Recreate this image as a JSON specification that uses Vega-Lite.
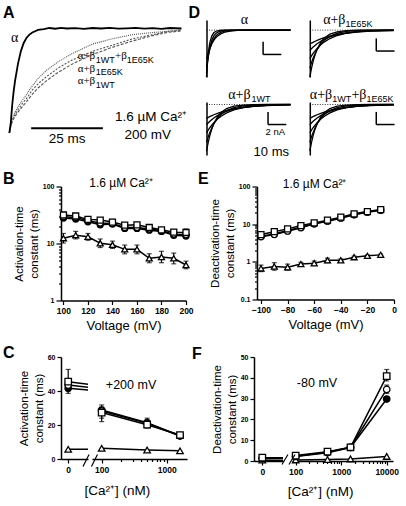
{
"$schema":"https://vega.github.io/schema/vega-lite/v6.json",
"padding":{"left":2,"top":5,"right":0,"bottom":0},
"background":"white",
"config":{
 "view":{"stroke":null},
 "axis":{"grid":false,"domainColor":"black","domainWidth":1.5,"tickColor":"black","tickWidth":1.2,"tickSize":4,"labelColor":"black","titleColor":"black","labelFont":"Liberation Sans","titleFont":"Liberation Sans","labelFontWeight":"bold","titleFontWeight":"normal","labelOverlap":false,"labelFlush":false,"labelPadding":2},
 "text":{"color":"black"}
},
"datasets":{
 "trA":[
  {"c":"a","x":0,"y":0},{"c":"a","x":0.5,"y":0.1},{"c":"a","x":1,"y":0.27},{"c":"a","x":1.5,"y":0.4},{"c":"a","x":2,"y":0.5},{"c":"a","x":3,"y":0.66},{"c":"a","x":4,"y":0.78},{"c":"a","x":5,"y":0.86},{"c":"a","x":6,"y":0.91},{"c":"a","x":7,"y":0.94},{"c":"a","x":8,"y":0.96},{"c":"a","x":10,"y":0.985},{"c":"a","x":12,"y":0.992},{"c":"a","x":14,"y":1.003},{"c":"a","x":16,"y":0.996},{"c":"a","x":18,"y":1.004},{"c":"a","x":20,"y":0.998},{"c":"a","x":23,"y":1.002},{"c":"a","x":26,"y":0.995},{"c":"a","x":29,"y":1.003},{"c":"a","x":32,"y":0.998},{"c":"a","x":35,"y":1.004},{"c":"a","x":38,"y":0.996},{"c":"a","x":41,"y":1.0},{"c":"a","x":44,"y":1.005},{"c":"a","x":47,"y":0.997},{"c":"a","x":50,"y":1.002},{"c":"a","x":53,"y":0.995},{"c":"a","x":56,"y":1.003},{"c":"a","x":60,"y":0.998},
  {"c":"s1","x":0,"y":0},{"c":"s1","x":0.5,"y":0.07},{"c":"s1","x":1,"y":0.12},{"c":"s1","x":2,"y":0.18},{"c":"s1","x":3,"y":0.22},{"c":"s1","x":4.5,"y":0.28},{"c":"s1","x":6,"y":0.33},{"c":"s1","x":8,"y":0.41},{"c":"s1","x":10,"y":0.47},{"c":"s1","x":13,"y":0.54},{"c":"s1","x":17,"y":0.62},{"c":"s1","x":22,"y":0.7},{"c":"s1","x":29,"y":0.78},{"c":"s1","x":36,"y":0.84},{"c":"s1","x":43,"y":0.9},{"c":"s1","x":50,"y":0.94},{"c":"s1","x":55,"y":0.97},{"c":"s1","x":60,"y":0.98},
  {"c":"s2","x":0,"y":0},{"c":"s2","x":0.5,"y":0.08},{"c":"s2","x":1,"y":0.13},{"c":"s2","x":2,"y":0.2},{"c":"s2","x":3,"y":0.25},{"c":"s2","x":4.5,"y":0.31},{"c":"s2","x":6,"y":0.37},{"c":"s2","x":8,"y":0.45},{"c":"s2","x":10,"y":0.52},{"c":"s2","x":13,"y":0.6},{"c":"s2","x":17,"y":0.68},{"c":"s2","x":22,"y":0.76},{"c":"s2","x":29,"y":0.85},{"c":"s2","x":36,"y":0.9},{"c":"s2","x":43,"y":0.94},{"c":"s2","x":50,"y":0.96},{"c":"s2","x":55,"y":0.97},{"c":"s2","x":60,"y":0.985},
  {"c":"s3","x":0,"y":0},{"c":"s3","x":0.5,"y":0.06},{"c":"s3","x":1,"y":0.11},{"c":"s3","x":2,"y":0.16},{"c":"s3","x":3,"y":0.2},{"c":"s3","x":4.5,"y":0.25},{"c":"s3","x":6,"y":0.3},{"c":"s3","x":8,"y":0.37},{"c":"s3","x":10,"y":0.43},{"c":"s3","x":13,"y":0.5},{"c":"s3","x":17,"y":0.58},{"c":"s3","x":22,"y":0.66},{"c":"s3","x":29,"y":0.75},{"c":"s3","x":36,"y":0.82},{"c":"s3","x":43,"y":0.88},{"c":"s3","x":50,"y":0.93},{"c":"s3","x":55,"y":0.96},{"c":"s3","x":60,"y":0.975}
 ],
 "trDa":[
  {"c":"d1","x":0,"y":-7.4},{"c":"d1","x":0.5,"y":-5.18},{"c":"d1","x":1,"y":-3.62},{"c":"d1","x":1.5,"y":-2.53},{"c":"d1","x":2,"y":-1.77},{"c":"d1","x":3,"y":-0.87},{"c":"d1","x":4,"y":-0.42},{"c":"d1","x":5,"y":-0.21},{"c":"d1","x":6,"y":-0.1},{"c":"d1","x":8,"y":-0.02},{"c":"d1","x":10,"y":0},{"c":"d1","x":46,"y":0},
  {"c":"d2","x":0,"y":-6.8},{"c":"d2","x":0.5,"y":-5.3},{"c":"d2","x":1,"y":-4.12},{"c":"d2","x":1.5,"y":-3.21},{"c":"d2","x":2,"y":-2.5},{"c":"d2","x":3,"y":-1.52},{"c":"d2","x":4,"y":-0.92},{"c":"d2","x":5,"y":-0.56},{"c":"d2","x":6,"y":-0.34},{"c":"d2","x":8,"y":-0.12},{"c":"d2","x":10,"y":-0.05},{"c":"d2","x":13,"y":0},{"c":"d2","x":46,"y":0},
  {"c":"d3","x":0,"y":-5.8},{"c":"d3","x":0.5,"y":-4.85},{"c":"d3","x":1,"y":-4.06},{"c":"d3","x":1.5,"y":-3.4},{"c":"d3","x":2,"y":-2.84},{"c":"d3","x":3,"y":-1.99},{"c":"d3","x":4,"y":-1.39},{"c":"d3","x":5,"y":-0.97},{"c":"d3","x":6,"y":-0.68},{"c":"d3","x":8,"y":-0.33},{"c":"d3","x":10,"y":-0.16},{"c":"d3","x":13,"y":-0.06},{"c":"d3","x":17,"y":0},{"c":"d3","x":46,"y":0},
  {"c":"d4","x":0,"y":-4.6},{"c":"d4","x":0.5,"y":-4.03},{"c":"d4","x":1,"y":-3.54},{"c":"d4","x":1.5,"y":-3.1},{"c":"d4","x":2,"y":-2.72},{"c":"d4","x":3,"y":-2.09},{"c":"d4","x":4,"y":-1.61},{"c":"d4","x":5,"y":-1.23},{"c":"d4","x":6,"y":-0.95},{"c":"d4","x":8,"y":-0.56},{"c":"d4","x":10,"y":-0.33},{"c":"d4","x":13,"y":-0.15},{"c":"d4","x":17,"y":-0.05},{"c":"d4","x":22,"y":0},{"c":"d4","x":46,"y":0}
 ],
 "trDb":[
  {"c":"c1","x":0,"y":-7.4},{"c":"c1","x":1,"y":-5.93},{"c":"c1","x":2,"y":-4.74},{"c":"c1","x":3,"y":-3.8},{"c":"c1","x":4,"y":-3.04},{"c":"c1","x":6,"y":-1.95},{"c":"c1","x":8,"y":-1.25},{"c":"c1","x":11,"y":-0.64},{"c":"c1","x":15,"y":-0.26},{"c":"c1","x":20,"y":-0.09},{"c":"c1","x":26,"y":-0.02},{"c":"c1","x":33,"y":0},{"c":"c1","x":46,"y":0},
  {"c":"c2","x":0,"y":-6},{"c":"c2","x":1,"y":-5.08},{"c":"c2","x":2,"y":-4.3},{"c":"c2","x":3,"y":-3.64},{"c":"c2","x":4,"y":-3.08},{"c":"c2","x":6,"y":-2.21},{"c":"c2","x":8,"y":-1.58},{"c":"c2","x":11,"y":-0.96},{"c":"c2","x":15,"y":-0.49},{"c":"c2","x":20,"y":-0.21},{"c":"c2","x":26,"y":-0.08},{"c":"c2","x":33,"y":-0.02},{"c":"c2","x":46,"y":0},
  {"c":"c3","x":0,"y":-4.5},{"c":"c3","x":1,"y":-4.03},{"c":"c3","x":2,"y":-3.6},{"c":"c3","x":3,"y":-3.23},{"c":"c3","x":4,"y":-2.89},{"c":"c3","x":6,"y":-2.31},{"c":"c3","x":8,"y":-1.85},{"c":"c3","x":11,"y":-1.33},{"c":"c3","x":15,"y":-0.85},{"c":"c3","x":20,"y":-0.49},{"c":"c3","x":26,"y":-0.25},{"c":"c3","x":33,"y":-0.12},{"c":"c3","x":40,"y":-0.05},{"c":"c3","x":46,"y":-0.03},
  {"c":"c4","x":0,"y":-3.2},{"c":"c4","x":1,"y":-2.9},{"c":"c4","x":2,"y":-2.62},{"c":"c4","x":3,"y":-2.37},{"c":"c4","x":4,"y":-2.14},{"c":"c4","x":6,"y":-1.76},{"c":"c4","x":8,"y":-1.44},{"c":"c4","x":11,"y":-1.07},{"c":"c4","x":15,"y":-0.71},{"c":"c4","x":20,"y":-0.43},{"c":"c4","x":26,"y":-0.24},{"c":"c4","x":33,"y":-0.12},{"c":"c4","x":40,"y":-0.06},{"c":"c4","x":46,"y":-0.03},
  {"c":"c5","x":0,"y":-2.2},{"c":"c5","x":1,"y":-2.04},{"c":"c5","x":2,"y":-1.89},{"c":"c5","x":3,"y":-1.75},{"c":"c5","x":4,"y":-1.62},{"c":"c5","x":6,"y":-1.39},{"c":"c5","x":8,"y":-1.19},{"c":"c5","x":11,"y":-0.94},{"c":"c5","x":15,"y":-0.69},{"c":"c5","x":20,"y":-0.47},{"c":"c5","x":26,"y":-0.3},{"c":"c5","x":33,"y":-0.17},{"c":"c5","x":40,"y":-0.1},{"c":"c5","x":46,"y":-0.06}
 ],
 "dB":[
  {"x":100,"s":"T","y":12.4,"lo":10.2,"hi":15.0},{"x":110,"s":"T","y":14.0,"lo":12.0,"hi":16.3},{"x":120,"s":"T","y":13.1,"lo":11.4,"hi":15.0},{"x":130,"s":"T","y":10.1,"lo":8.5,"hi":12.0},{"x":140,"s":"T","y":9.5,"lo":8.2,"hi":11.0},{"x":150,"s":"T","y":7.9,"lo":6.6,"hi":9.4},{"x":160,"s":"T","y":7.9,"lo":6.6,"hi":9.4},{"x":170,"s":"T","y":5.5,"lo":4.6,"hi":6.6},{"x":180,"s":"T","y":5.8,"lo":4.6,"hi":7.3},{"x":190,"s":"T","y":5.5,"lo":4.4,"hi":6.8},{"x":200,"s":"T","y":4.2,"lo":3.6,"hi":4.9},
  {"x":100,"s":"W","y":28},{"x":110,"s":"W","y":26.9},{"x":120,"s":"W","y":24.1},{"x":130,"s":"W","y":21.3},{"x":140,"s":"W","y":21.9},{"x":150,"s":"W","y":18.4},{"x":160,"s":"W","y":18.4},{"x":170,"s":"W","y":17.1},{"x":180,"s":"W","y":16.3},{"x":190,"s":"W","y":13.9},{"x":200,"s":"W","y":13.5},
  {"x":100,"s":"O","y":29.5},{"x":110,"s":"O","y":28.7},{"x":120,"s":"O","y":25},{"x":130,"s":"O","y":22.8},{"x":140,"s":"O","y":22.5},{"x":150,"s":"O","y":19.1},{"x":160,"s":"O","y":19.1},{"x":170,"s":"O","y":17.9},{"x":180,"s":"O","y":16.8},{"x":190,"s":"O","y":14.6},{"x":200,"s":"O","y":14.2},
  {"x":100,"s":"S","y":31.6,"lo":29,"hi":34.5},{"x":110,"s":"S","y":30.4,"lo":28,"hi":33},{"x":120,"s":"S","y":26.5,"lo":24.5,"hi":28.8},{"x":130,"s":"S","y":25.8,"lo":23.5,"hi":28.5},{"x":140,"s":"S","y":23.8,"lo":21.5,"hi":26.5},{"x":150,"s":"S","y":21,"lo":19.3,"hi":22.9},{"x":160,"s":"S","y":21.3,"lo":19.5,"hi":23.3},{"x":170,"s":"S","y":19.1,"lo":17.5,"hi":20.8},{"x":180,"s":"S","y":17.4,"lo":16,"hi":19},{"x":190,"s":"S","y":15.8,"lo":14.4,"hi":17.4},{"x":200,"s":"S","y":15.6,"lo":13.5,"hi":18}
 ],
 "dE":[
  {"x":-100,"s":"T","y":0.67,"lo":0.55,"hi":0.82},{"x":-90,"s":"T","y":0.75,"lo":0.6,"hi":0.95},{"x":-80,"s":"T","y":0.72,"lo":0.6,"hi":0.87},{"x":-70,"s":"T","y":0.87,"lo":0.78,"hi":0.97},{"x":-60,"s":"T","y":0.92,"lo":0.8,"hi":1.05},{"x":-50,"s":"T","y":1.1,"lo":0.95,"hi":1.25},{"x":-40,"s":"T","y":1.1,"lo":1.0,"hi":1.2},{"x":-30,"s":"T","y":1.33,"lo":1.25,"hi":1.42},{"x":-20,"s":"T","y":1.44,"lo":1.36,"hi":1.52},{"x":-10,"s":"T","y":1.53,"lo":1.45,"hi":1.6},
  {"x":-100,"s":"W","y":4.8},{"x":-90,"s":"W","y":5.5},{"x":-80,"s":"W","y":6.8},{"x":-70,"s":"W","y":8.3},{"x":-60,"s":"W","y":10.2},{"x":-50,"s":"W","y":12.2},{"x":-40,"s":"W","y":14.7},{"x":-30,"s":"W","y":18.0},{"x":-20,"s":"W","y":21.2},{"x":-10,"s":"W","y":23.9},
  {"x":-100,"s":"O","y":4.6},{"x":-90,"s":"O","y":5.3},{"x":-80,"s":"O","y":6.5},{"x":-70,"s":"O","y":8.0},{"x":-60,"s":"O","y":10.2},{"x":-50,"s":"O","y":12.0},{"x":-40,"s":"O","y":14.4},{"x":-30,"s":"O","y":17.7},{"x":-20,"s":"O","y":20.7},{"x":-10,"s":"O","y":23.4},
  {"x":-100,"s":"S","y":5.3},{"x":-90,"s":"S","y":6.3},{"x":-80,"s":"S","y":7.5},{"x":-70,"s":"S","y":9.2},{"x":-60,"s":"S","y":10.8},{"x":-50,"s":"S","y":12.8},{"x":-40,"s":"S","y":15.3},{"x":-30,"s":"S","y":18.8},{"x":-20,"s":"S","y":21.6},{"x":-10,"s":"S","y":24.4}
 ],
 "dC":[
  {"x":0,"s":"T","y":5.7},{"x":100,"s":"T","y":6.3},{"x":500,"s":"T","y":5.3},{"x":1600,"s":"T","y":4.8},
  {"x":0,"s":"W","y":41.6,"lo":38.6,"hi":44.6},{"x":100,"s":"W","y":28.8,"lo":22,"hi":31.8},{"x":500,"s":"W","y":21.4,"lo":18.5,"hi":24},{"x":1600,"s":"W","y":13.7},
  {"x":0,"s":"O","y":43.5},{"x":100,"s":"O","y":28.2},{"x":500,"s":"O","y":21.0},{"x":1600,"s":"O","y":13.5},
  {"x":0,"s":"S","y":45.5,"lo":40,"hi":52.7},{"x":100,"s":"S","y":27.3,"lo":24,"hi":30.5},{"x":500,"s":"S","y":20.2,"lo":18.2,"hi":22.4},{"x":1600,"s":"S","y":14.1}
 ],
 "dF":[
  {"x":0,"s":"T","y":0.4},{"x":100,"s":"T","y":0.5},{"x":500,"s":"T","y":0.7},{"x":1600,"s":"T","y":1.0},{"x":10000,"s":"T","y":2.2},
  {"x":0,"s":"W","y":1.2},{"x":100,"s":"W","y":2.2},{"x":500,"s":"W","y":4.0},{"x":1600,"s":"W","y":6.5},{"x":10000,"s":"W","y":29.8},
  {"x":0,"s":"O","y":1.4},{"x":100,"s":"O","y":2.3},{"x":500,"s":"O","y":4.2},{"x":1600,"s":"O","y":6.6},{"x":10000,"s":"O","y":34.4,"lo":32.5,"hi":36.5},
  {"x":0,"s":"S","y":1.6},{"x":100,"s":"S","y":2.6},{"x":500,"s":"S","y":4.5},{"x":1600,"s":"S","y":6.6},{"x":10000,"s":"S","y":40.8,"lo":38.5,"hi":44}
 ]
},
"spacing":11.5,
"vconcat":[
 {"hconcat":[
  {"width":120.5,"height":113,
   "encoding":{"x":{"field":"x","type":"quantitative","scale":{"domain":[18,60],"nice":false,"zero":false},"axis":null},
               "y":{"field":"y","type":"quantitative","scale":{"domain":[0,1.0793],"nice":false,"zero":false},"axis":null}},
   "layer":[
    {"data":{"name":"trA"},"transform":[{"filter":"datum.c != 'a'"}],"mark":{"type":"line","color":"#555555","strokeWidth":1.1},"encoding":{"detail":{"field":"c"},"strokeDash":{"field":"c","type":"nominal","scale":{"domain":["s1","s2","s3"],"range":[[2,1.5],[1,1],[3,1.5]]},"legend":null}}},
    {"data":{"name":"trA"},"transform":[{"filter":"datum.c == 'a'"}],"mark":{"type":"line","color":"black","strokeWidth":1.8}},
    {"data":{"values":[{"x":7.6,"x2":32.6,"y":0.045}]},"mark":{"type":"rule","color":"black","strokeWidth":2},"encoding":{"x2":{"field":"x2"}}},
    {"data":{"values":[{"t":"A","x":-2.2,"y":1.146}]},"mark":{"type":"text","align":"left","baseline":"middle","fontSize":16,"fontWeight":"bold","font":"Liberation Sans"},"encoding":{"text":{"field":"t"}}},
    {"data":{"values":[{"t":"α","x":0.6,"y":0.907}]},"mark":{"type":"text","align":"left","baseline":"middle","fontSize":14,"font":"Liberation Serif"},"encoding":{"text":{"field":"t"}}},
    {"data":{"values":[{"t":"α+β","x":23.8,"y":0.735},{"t":"+β","x":36.8,"y":0.735},{"t":"α+β","x":23.8,"y":0.616},{"t":"α+β","x":23.8,"y":0.497}]},"mark":{"type":"text","align":"left","baseline":"middle","fontSize":11,"font":"Liberation Serif"},"encoding":{"text":{"field":"t"}}},
    {"data":{"values":[{"t":"1WT","x":30.1,"y":0.697},{"t":"1E65K","x":40.9,"y":0.697},{"t":"1E65K","x":30.1,"y":0.578},{"t":"1WT","x":30.1,"y":0.458}]},"mark":{"type":"text","align":"left","baseline":"middle","fontSize":9,"font":"Liberation Sans"},"encoding":{"text":{"field":"t"}}},
    {"data":{"values":[{"t":"1.6 µM Ca²⁺","x":49.4,"y":0.153},{"t":"200 mV","x":48.2,"y":-0.019},{"t":"25 ms","x":20.1,"y":-0.062}]},"mark":{"type":"text","align":"center","baseline":"middle","fontSize":13.5,"font":"Liberation Sans"},"encoding":{"text":{"field":"t"}}}
   ]},
  {"concat":[
    {"width":84,"height":57,
     "encoding":{"x":{"field":"x","type":"quantitative","scale":{"domain":[0,46],"nice":false,"zero":false},"axis":null},
                 "y":{"field":"y","type":"quantitative","scale":{"domain":[-7.4,1.6],"nice":false,"zero":false},"axis":{"domain":true,"ticks":false,"labels":false,"title":null}}},
     "layer":[
      {"data":{"values":[{"x":0,"x2":46,"y":0}]},"mark":{"type":"rule","color":"black","strokeWidth":0.8,"strokeDash":[1,1.5]},"encoding":{"x2":{"field":"x2"}}},
      {"data":{"name":"trDa"},"mark":{"type":"line","color":"black","strokeWidth":1.3},"encoding":{"detail":{"field":"c"}}},
      {"data":{"values":[{"x":31,"x2":31,"y":-1.84,"y2":-3.84},{"x":31,"x2":41,"y":-3.84,"y2":-3.84}]},"mark":{"type":"rule","color":"black","strokeWidth":1.5},"encoding":{"x2":{"field":"x2"},"y2":{"field":"y2"}}},
      {"data":{"values":[{"t":"D","x":-9.8,"y":2.68}]},"mark":{"type":"text","align":"left","baseline":"middle","fontSize":16,"fontWeight":"bold","font":"Liberation Sans"},"encoding":{"text":{"field":"t"}}},
      {"data":{"values":[{"t":"α","x":20.8,"y":1.57}]},"mark":{"type":"text","align":"center","baseline":"middle","fontSize":14,"font":"Liberation Serif"},"encoding":{"text":{"field":"t"}}}
     ]},
    {"width":84,"height":57,
     "encoding":{"x":{"field":"x","type":"quantitative","scale":{"domain":[0,46],"nice":false,"zero":false},"axis":null},
                 "y":{"field":"y","type":"quantitative","scale":{"domain":[-7.4,1.6],"nice":false,"zero":false},"axis":{"domain":true,"ticks":false,"labels":false,"title":null}}},
     "layer":[
      {"data":{"values":[{"x":0,"x2":46,"y":0}]},"mark":{"type":"rule","color":"black","strokeWidth":0.8,"strokeDash":[1,1.5]},"encoding":{"x2":{"field":"x2"}}},
      {"data":{"name":"trDb"},"mark":{"type":"line","color":"black","strokeWidth":1.3},"encoding":{"detail":{"field":"c"}}},
      {"data":{"values":[{"x":36.4,"x2":36.4,"y":-1.3,"y2":-3.3},{"x":36.4,"x2":46.4,"y":-3.3,"y2":-3.3}]},"mark":{"type":"rule","color":"black","strokeWidth":1.5},"encoding":{"x2":{"field":"x2"},"y2":{"field":"y2"}}},
      {"data":{"values":[{"t":"α+β","x":7.3,"y":1.57}]},"mark":{"type":"text","align":"left","baseline":"middle","fontSize":14,"font":"Liberation Serif"},"encoding":{"text":{"field":"t"}}},
      {"data":{"values":[{"t":"1E65K","x":19.6,"y":0.94}]},"mark":{"type":"text","align":"left","baseline":"middle","fontSize":9,"font":"Liberation Sans"},"encoding":{"text":{"field":"t"}}}
     ]},
    {"width":84,"height":53,
     "encoding":{"x":{"field":"x","type":"quantitative","scale":{"domain":[0,46],"nice":false,"zero":false},"axis":null},
                 "y":{"field":"y","type":"quantitative","scale":{"domain":[-8,0.4],"nice":false,"zero":false},"axis":{"domain":true,"ticks":false,"labels":false,"title":null}}},
     "layer":[
      {"data":{"values":[{"x":0,"x2":46,"y":0}]},"mark":{"type":"rule","color":"black","strokeWidth":0.8,"strokeDash":[1,1.5]},"encoding":{"x2":{"field":"x2"}}},
      {"data":{"name":"trDb"},"mark":{"type":"line","color":"black","strokeWidth":1.3},"encoding":{"detail":{"field":"c"}}},
      {"data":{"values":[{"x":33.7,"x2":33.7,"y":-1.17,"y2":-3.17},{"x":33.7,"x2":43.7,"y":-3.17,"y2":-3.17}]},"mark":{"type":"rule","color":"black","strokeWidth":1.5},"encoding":{"x2":{"field":"x2"},"y2":{"field":"y2"}}},
      {"data":{"values":[{"t":"α+β","x":11.9,"y":1.57}]},"mark":{"type":"text","align":"left","baseline":"middle","fontSize":14,"font":"Liberation Serif"},"encoding":{"text":{"field":"t"}}},
      {"data":{"values":[{"t":"1WT","x":24.6,"y":0.94}]},"mark":{"type":"text","align":"left","baseline":"middle","fontSize":9,"font":"Liberation Sans"},"encoding":{"text":{"field":"t"}}},
      {"data":{"values":[{"t":"2 nA","x":37.7,"y":-4.3}]},"mark":{"type":"text","align":"center","baseline":"middle","fontSize":9.5,"font":"Liberation Sans"},"encoding":{"text":{"field":"t"}}},
      {"data":{"values":[{"t":"10 ms","x":35.5,"y":-7.46}]},"mark":{"type":"text","align":"center","baseline":"middle","fontSize":13,"font":"Liberation Sans"},"encoding":{"text":{"field":"t"}}}
     ]},
    {"width":84,"height":53,
     "encoding":{"x":{"field":"x","type":"quantitative","scale":{"domain":[0,46],"nice":false,"zero":false},"axis":null},
                 "y":{"field":"y","type":"quantitative","scale":{"domain":[-8,0.4],"nice":false,"zero":false},"axis":{"domain":true,"ticks":false,"labels":false,"title":null}}},
     "layer":[
      {"data":{"values":[{"x":0,"x2":46,"y":0}]},"mark":{"type":"rule","color":"black","strokeWidth":0.8,"strokeDash":[1,1.5]},"encoding":{"x2":{"field":"x2"}}},
      {"data":{"name":"trDb"},"mark":{"type":"line","color":"black","strokeWidth":1.3},"encoding":{"detail":{"field":"c"}}},
      {"data":{"values":[{"x":36.4,"x2":36.4,"y":-1.17,"y2":-3.17},{"x":36.4,"x2":46.4,"y":-3.17,"y2":-3.17}]},"mark":{"type":"rule","color":"black","strokeWidth":1.5},"encoding":{"x2":{"field":"x2"},"y2":{"field":"y2"}}},
      {"data":{"values":[{"t":"α+β","x":0,"y":1.57},{"t":"+β","x":22.8,"y":1.57}]},"mark":{"type":"text","align":"left","baseline":"middle","fontSize":14,"font":"Liberation Serif"},"encoding":{"text":{"field":"t"}}},
      {"data":{"values":[{"t":"1WT","x":12.3,"y":0.94},{"t":"1E65K","x":31.1,"y":0.94}]},"mark":{"type":"text","align":"left","baseline":"middle","fontSize":9,"font":"Liberation Sans"},"encoding":{"text":{"field":"t"}}}
     ]}
   ],"columns":2,"spacing":{"row":25,"column":19.3},"bounds":"flush"}
 ],"spacing":24.5,"bounds":"flush"},
 {"hconcat":[
  {"width":125,"height":114,
   "encoding":{"x":{"field":"x","type":"quantitative","scale":{"domain":[98,200],"nice":false,"zero":false},"axis":{"values":[100,120,140,160,180,200],"title":"Voltage (mV)","labelFontSize":8.5,"titleFontSize":13,"titlePadding":4}},
     "y":{"field":"y","type":"quantitative","scale":{"type":"log","domain":[1,100],"nice":false},"axis":{"values":[1,2,3,4,5,6,7,8,9,10,20,30,40,50,60,70,80,90,100],"labelExpr":"datum.value == 1 ? '1' : datum.value == 10 ? '10' : datum.value == 100 ? '100' : ''","tickSize":{"condition":{"test":"datum.value == 1 || datum.value == 10 || datum.value == 100","value":5},"value":2.5},"title":["Activation-time","constant (ms)"],"titleFontSize":11.5,"titleLineHeight":15,"labelFontSize":7,"titlePadding":3}}},
   "layer":[
    {"data":{"name":"dB"},"mark":{"type":"line","color":"black","strokeWidth":1.5},"encoding":{"detail":{"field":"s"}}},
    {"data":{"name":"dB"},"transform":[{"filter":"isValid(datum.lo)"}],"mark":{"type":"errorbar","ticks":true,"size":5,"thickness":1.2,"color":"black"},"encoding":{"y":{"field":"lo","type":"quantitative"},"y2":{"field":"hi"}}},
    {"data":{"name":"dB"},"mark":{"type":"point","filled":true,"size":36,"stroke":"black","strokeWidth":1.3,"opacity":1},"encoding":{"shape":{"field":"s","type":"nominal","scale":{"domain":["T","W","O","S"],"range":["triangle-up","circle","circle","square"]},"legend":null},"fill":{"field":"s","type":"nominal","scale":{"domain":["T","W","O","S"],"range":["white","black","white","white"]},"legend":null}}},
    {"data":{"values":[{"t":"B","x":50.7,"y":132.7}]},"mark":{"type":"text","align":"left","baseline":"middle","fontSize":16,"fontWeight":"bold","font":"Liberation Sans"},"encoding":{"text":{"field":"t"}}},
    {"data":{"values":[{"t":"1.6 µM Ca²⁺","x":147,"y":115}]},"mark":{"type":"text","align":"center","baseline":"middle","fontSize":12,"font":"Liberation Sans"},"encoding":{"text":{"field":"t"}}}
   ]},
  {"width":137,"height":113,
   "encoding":{"x":{"field":"x","type":"quantitative","scale":{"domain":[-103,0],"nice":false,"zero":false},"axis":{"values":[-100,-80,-60,-40,-20,0],"title":"Voltage (mV)","labelFontSize":8.5,"titleFontSize":13,"titlePadding":4}},
     "y":{"field":"y","type":"quantitative","scale":{"type":"log","domain":[0.1,100],"nice":false},"axis":{"values":[0.1,0.2,0.3,0.4,0.5,0.6,0.7,0.8,0.9,1,2,3,4,5,6,7,8,9,10,20,30,40,50,60,70,80,90,100],"labelExpr":"datum.value == 0.1 ? '0.1' : datum.value == 1 ? '1' : datum.value == 10 ? '10' : datum.value == 100 ? '100' : ''","tickSize":{"condition":{"test":"datum.value == 0.1 || datum.value == 1 || datum.value == 10 || datum.value == 100","value":5},"value":2.5},"title":["Deactivation-time","constant (ms)"],"titleFontSize":11.5,"titleLineHeight":15,"labelFontSize":7,"titlePadding":3}}},
   "layer":[
    {"data":{"name":"dE"},"mark":{"type":"line","color":"black","strokeWidth":1.5},"encoding":{"detail":{"field":"s"}}},
    {"data":{"name":"dE"},"transform":[{"filter":"isValid(datum.lo)"}],"mark":{"type":"errorbar","ticks":true,"size":5,"thickness":1.2,"color":"black"},"encoding":{"y":{"field":"lo","type":"quantitative"},"y2":{"field":"hi"}}},
    {"data":{"name":"dE"},"mark":{"type":"point","filled":true,"size":36,"stroke":"black","strokeWidth":1.3,"opacity":1},"encoding":{"shape":{"field":"s","type":"nominal","scale":{"domain":["T","W","O","S"],"range":["triangle-up","circle","circle","square"]},"legend":null},"fill":{"field":"s","type":"nominal","scale":{"domain":["T","W","O","S"],"range":["white","black","white","white"]},"legend":null}}},
    {"data":{"values":[{"t":"E","x":-147.3,"y":153.5}]},"mark":{"type":"text","align":"left","baseline":"middle","fontSize":16,"fontWeight":"bold","font":"Liberation Sans"},"encoding":{"text":{"field":"t"}}},
    {"data":{"values":[{"t":"1.6 µM Ca²⁺","x":-59.7,"y":120}]},"mark":{"type":"text","align":"center","baseline":"middle","fontSize":12,"font":"Liberation Sans"},"encoding":{"text":{"field":"t"}}}
   ]}
 ],"spacing":71,"bounds":"flush"},
 {"hconcat":[
  {"hconcat":[
   {"width":27,"height":102,
    "encoding":{"x":{"field":"x","type":"quantitative","scale":{"domain":[-3,8.25],"nice":false,"zero":false},"axis":{"values":[0],"title":null,"labelFontSize":8.5}},
      "y":{"field":"y","type":"quantitative","scale":{"domain":[0,60],"nice":false},"axis":{"values":[0,20,40,60],"title":["Activation-time","constant (ms)"],"titleFontSize":11.5,"titleLineHeight":15,"labelFontSize":7,"titlePadding":3}}},
    "layer":[
     {"data":{"name":"dC"},"mark":{"type":"line","color":"black","strokeWidth":1.5,"clip":true},"encoding":{"detail":{"field":"s"}}},
     {"data":{"name":"dC"},"transform":[{"filter":"datum.x == 0 && isValid(datum.lo)"}],"mark":{"type":"errorbar","ticks":true,"size":5,"thickness":1.2,"color":"black"},"encoding":{"y":{"field":"lo","type":"quantitative"},"y2":{"field":"hi"}}},
     {"data":{"name":"dC"},"transform":[{"filter":"datum.x == 0"}],"mark":{"type":"point","filled":true,"size":42,"stroke":"black","strokeWidth":1.3,"opacity":1},"encoding":{"shape":{"field":"s","type":"nominal","scale":{"domain":["T","W","O","S"],"range":["triangle-up","circle","circle","square"]},"legend":null},"fill":{"field":"s","type":"nominal","scale":{"domain":["T","W","O","S"],"range":["white","black","white","white"]},"legend":null}}},
     {"data":{"values":[{"x":6.17,"x2":8.67,"y":-4.4,"y2":2.6}]},"mark":{"type":"rule","color":"black","strokeWidth":1.2},"encoding":{"x2":{"field":"x2"},"y2":{"field":"y2"}}},
     {"data":{"values":[{"t":"C","x":-27.2,"y":62.4}]},"mark":{"type":"text","align":"left","baseline":"middle","fontSize":16,"fontWeight":"bold","font":"Liberation Sans"},"encoding":{"text":{"field":"t"}}}
    ]},
   {"width":95,"height":102,
    "encoding":{"x":{"field":"x","type":"quantitative","scale":{"type":"log","domain":[71,2050],"nice":false},"axis":{"values":[100,200,300,400,500,600,700,800,900,1000],"labelExpr":"datum.value == 100 ? '100' : datum.value == 1000 ? '1000' : ''","tickSize":{"condition":{"test":"datum.value == 100 || datum.value == 1000","value":4},"value":2.5},"title":null,"labelFontSize":8.5}},
      "y":{"field":"y","type":"quantitative","scale":{"domain":[0,60],"nice":false},"axis":null}},
    "layer":[
     {"data":{"name":"dC"},"transform":[{"filter":"datum.x > 0"}],"mark":{"type":"line","color":"black","strokeWidth":1.5},"encoding":{"detail":{"field":"s"}}},
     {"data":{"name":"dC"},"transform":[{"filter":"datum.x > 0 && isValid(datum.lo)"}],"mark":{"type":"errorbar","ticks":true,"size":5,"thickness":1.2,"color":"black"},"encoding":{"y":{"field":"lo","type":"quantitative"},"y2":{"field":"hi"}}},
     {"data":{"name":"dC"},"transform":[{"filter":"datum.x > 0"}],"mark":{"type":"point","filled":true,"size":42,"stroke":"black","strokeWidth":1.3,"opacity":1},"encoding":{"shape":{"field":"s","type":"nominal","scale":{"domain":["T","W","O","S"],"range":["triangle-up","circle","circle","square"]},"legend":null},"fill":{"field":"s","type":"nominal","scale":{"domain":["T","W","O","S"],"range":["white","black","white","white"]},"legend":null}}},
     {"data":{"values":[{"x":69.7,"x2":86.2,"y":-4.4,"y2":2.6}]},"mark":{"type":"rule","color":"black","strokeWidth":1.2},"encoding":{"x2":{"field":"x2"},"y2":{"field":"y2"}}},
     {"data":{"values":[{"t":"+200 mV","x":282.6,"y":43.5}]},"mark":{"type":"text","align":"center","baseline":"middle","fontSize":12.5,"font":"Liberation Sans"},"encoding":{"text":{"field":"t"}}},
     {"data":{"values":[{"t":"[Ca²⁺] (nM)","x":175,"y":-19.1}]},"mark":{"type":"text","align":"center","baseline":"middle","fontSize":13.5,"font":"Liberation Sans"},"encoding":{"text":{"field":"t"}}}
    ]}
  ],"spacing":4,"bounds":"flush"},
  {"hconcat":[
   {"width":29,"height":104,
    "encoding":{"x":{"field":"x","type":"quantitative","scale":{"domain":[-3.4,8.5],"nice":false,"zero":false},"axis":{"values":[0],"title":null,"labelFontSize":8.5}},
      "y":{"field":"y","type":"quantitative","scale":{"domain":[0,50],"nice":false},"axis":{"values":[0,10,20,30,40,50],"title":["Deactivation-time","constant (ms)"],"titleFontSize":11.5,"titleLineHeight":15,"labelFontSize":7,"titlePadding":3}}},
    "layer":[
     {"data":{"name":"dF"},"mark":{"type":"line","color":"black","strokeWidth":1.5,"clip":true},"encoding":{"detail":{"field":"s"}}},
     {"data":{"name":"dF"},"transform":[{"filter":"datum.x == 0"}],"mark":{"type":"point","filled":true,"size":42,"stroke":"black","strokeWidth":1.3,"opacity":1},"encoding":{"shape":{"field":"s","type":"nominal","scale":{"domain":["T","W","O","S"],"range":["triangle-up","circle","circle","square"]},"legend":null},"fill":{"field":"s","type":"nominal","scale":{"domain":["T","W","O","S"],"range":["white","black","white","white"]},"legend":null}}},
     {"data":{"values":[{"x":8.08,"x2":10.53,"y":-1.7,"y2":3.1}]},"mark":{"type":"rule","color":"black","strokeWidth":1.2},"encoding":{"x2":{"field":"x2"},"y2":{"field":"y2"}}},
     {"data":{"values":[{"t":"F","x":-28.8,"y":51.4}]},"mark":{"type":"text","align":"left","baseline":"middle","fontSize":16,"fontWeight":"bold","font":"Liberation Sans"},"encoding":{"text":{"field":"t"}}}
    ]},
   {"width":101,"height":104,
    "encoding":{"x":{"field":"x","type":"quantitative","scale":{"type":"log","domain":[83,13750],"nice":false},"axis":{"values":[100,200,300,400,500,600,700,800,900,1000,2000,3000,4000,5000,6000,7000,8000,9000,10000],"labelExpr":"datum.value == 100 ? '100' : datum.value == 1000 ? '1000' : datum.value == 10000 ? '10000' : ''","tickSize":{"condition":{"test":"datum.value == 100 || datum.value == 1000 || datum.value == 10000","value":4},"value":2.5},"title":null,"labelFontSize":8.5}},
      "y":{"field":"y","type":"quantitative","scale":{"domain":[0,50],"nice":false},"axis":null}},
    "layer":[
     {"data":{"name":"dF"},"transform":[{"filter":"datum.x > 0"}],"mark":{"type":"line","color":"black","strokeWidth":1.5},"encoding":{"detail":{"field":"s"}}},
     {"data":{"name":"dF"},"transform":[{"filter":"datum.x > 0 && isValid(datum.lo)"}],"mark":{"type":"errorbar","ticks":true,"size":5,"thickness":1.2,"color":"black"},"encoding":{"y":{"field":"lo","type":"quantitative"},"y2":{"field":"hi"}}},
     {"data":{"name":"dF"},"transform":[{"filter":"datum.x > 0"}],"mark":{"type":"point","filled":true,"size":42,"stroke":"black","strokeWidth":1.3,"opacity":1},"encoding":{"shape":{"field":"s","type":"nominal","scale":{"domain":["T","W","O","S"],"range":["triangle-up","circle","circle","square"]},"legend":null},"fill":{"field":"s","type":"nominal","scale":{"domain":["T","W","O","S"],"range":["white","black","white","white"]},"legend":null}}},
     {"data":{"values":[{"x":71.3,"x2":96.6,"y":-1.7,"y2":3.1}]},"mark":{"type":"rule","color":"black","strokeWidth":1.2},"encoding":{"x2":{"field":"x2"},"y2":{"field":"y2"}}},
     {"data":{"values":[{"t":"-80 mV","x":294,"y":37.7}]},"mark":{"type":"text","align":"center","baseline":"middle","fontSize":12.5,"font":"Liberation Sans"},"encoding":{"text":{"field":"t"}}},
     {"data":{"values":[{"t":"[Ca²⁺] (nM)","x":351,"y":-14.7}]},"mark":{"type":"text","align":"center","baseline":"middle","fontSize":13.5,"font":"Liberation Sans"},"encoding":{"text":{"field":"t"}}}
    ]}
  ],"spacing":9,"bounds":"flush"}
 ],"spacing":5}
]
}
